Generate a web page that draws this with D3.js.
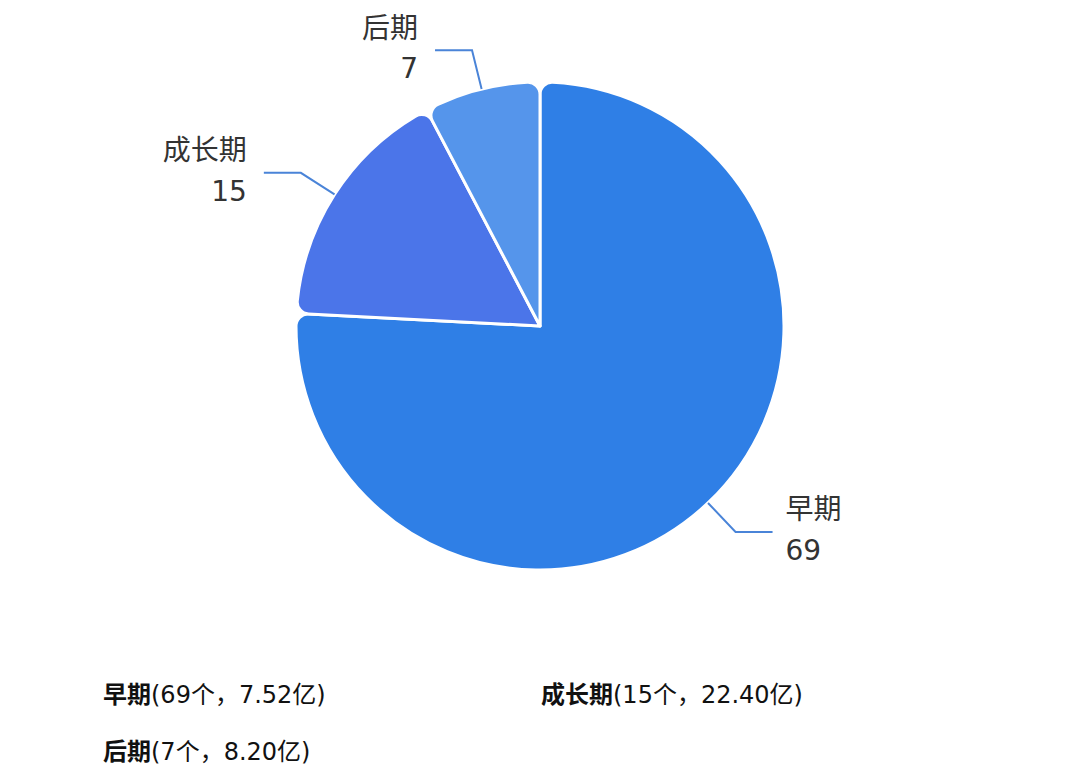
<!DOCTYPE html>
<html>
<head>
<meta charset="utf-8">
<script src="https://cdn.jsdelivr.net/npm/d3@7"></script>
<style>
  body { margin: 0; background: #fff; }
  text { font-family: "DejaVu Sans", "Noto Sans CJK SC", sans-serif; }
</style>
</head>
<body>
<div class="canvas"></div>
<script>
const stages = ['早期', '成长期', '后期'];
const counts = [69, 15, 7];
const amounts = ['7.52', '22.40', '8.20'];
const colors = ['#2f7fe6', '#4b75e9', '#5595eb'];

const svg = d3.select('.canvas')
    .append('svg')
    .attr('width', 1080)
    .attr('height', 768);

const cx = 540, cy = 326, r = 244;

const data = stages.map((s, i) => ({ name: s, value: counts[i], amount: amounts[i], color: colors[i] }));

const pie = d3.pie()
    .value(d => d.value)
    .sort(null);

const arc = d3.arc()
    .innerRadius(0)
    .outerRadius(r)
    .cornerRadius(12);

const g = svg.append('g').attr('transform', `translate(${cx},${cy})`);

const arcs = pie(data);

g.selectAll('path')
    .data(arcs)
    .enter()
    .append('path')
    .attr('d', arc)
    .attr('fill', d => d.data.color)
    .attr('stroke', '#fff')
    .attr('stroke-width', 3)
    .attr('stroke-linejoin', 'round');

// label lines
const pt = (a, rad) => [Math.sin(a) * rad, -Math.cos(a) * rad];

arcs.forEach(d => {
    const mid = (d.startAngle + d.endAngle) / 2;
    const p1 = pt(mid, r);
    const p2 = pt(mid, r + 40);
    const right = Math.sin(mid) > 0;
    const p3 = [p2[0] + (right ? 37 : -37), p2[1]];

    g.append('polyline')
        .attr('points', [p1, p2, p3].map(p => p.join(',')).join(' '))
        .attr('fill', 'none')
        .attr('stroke', '#4a84d8')
        .attr('stroke-width', 2);

    const tx = p3[0] + (right ? 13 : -17);
    const t = g.append('text')
        .attr('x', tx)
        .attr('y', p3[1])
        .attr('text-anchor', right ? 'start' : 'end')
        .attr('fill', '#333')
        .style('font-size', '28px');
    t.append('tspan').attr('x', tx).attr('dy', '-0.45em').text(d.data.name);
    t.append('tspan').attr('x', tx).attr('dy', '1.45em').text(d.data.value);
});

// legend
const legendPos = [[103, 703], [541, 703], [103, 760]];

const legend = svg.selectAll('.legend')
    .data(data)
    .enter()
    .append('text')
    .attr('class', 'legend')
    .attr('x', (d, i) => legendPos[i][0])
    .attr('y', (d, i) => legendPos[i][1])
    .attr('fill', '#111')
    .style('font-size', '24px');

legend.append('tspan')
    .attr('font-weight', 'bold')
    .text(d => d.name);
legend.append('tspan')
    .text(d => `(${d.value}个，${d.amount}亿)`);
</script>
</body>
</html>
